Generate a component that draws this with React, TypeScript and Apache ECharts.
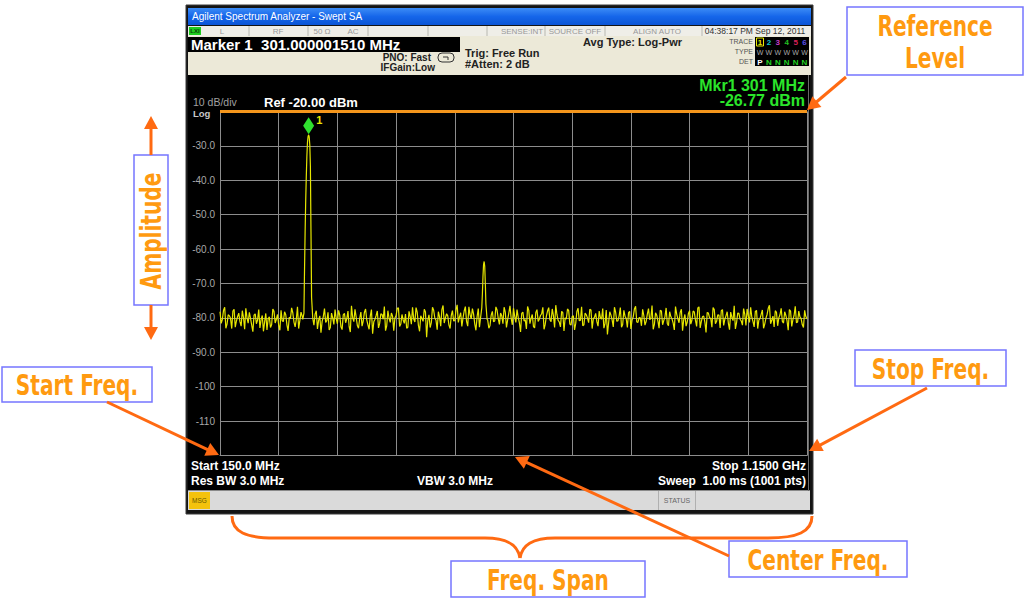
import React, { useEffect, useRef } from 'react';
import * as echarts from 'echarts';

// ---------- data ----------
const startMHz = 150;
const stopMHz = 1150;
const noiseStepMHz = 4;
// trace samples at 150, 154, 158 ... MHz
const noiseEvenDb = [
  -78.2, -80.5, -76.9, -81.8, -79.4, -83.1, -77.5, -80.9, -78.6, -82.4, -79.9, -77.2, -81.5, -80.1, -84.0, -78.8, -80.6, -82.9, -79.3, -81.2,
  -83.5, -79.7, -81.9, -78.1, -80.4, -82.2, -77.8, -81.0, -79.1, -83.8, -80.2, -78.5, -82.6, -76.8, -80.8, -79.5, -83.2, -78.9, -81.4, -79.0,
  -82.1, -77.9, -80.7, -84.3, -79.6, -81.3, -78.4, -82.8, -80.0, -77.6, -81.7, -79.2, -83.4, -78.7, -80.3, -82.5, -76.5, -81.1, -79.8, -83.0,
  -78.3, -80.9, -77.4, -82.0, -79.5, -84.6, -80.4, -78.0, -81.6, -79.0, -76.7, -82.3, -80.1, -78.6, -83.7, -79.3, -77.1, -81.8, -80.6, -78.9,
  -82.7, -79.6, -76.9, -81.2, -78.4, -83.9, -80.2, -77.5, -85.6, -79.1, -81.4, -77.8, -80.7, -78.2, -82.4, -76.4, -80.0, -79.4, -83.1, -77.9,
  -80.8, -76.2, -79.7, -82.5, -78.0, -81.0, -76.8, -80.3, -78.9, -83.6, -77.3, -81.5, -79.2, -76.6, -80.6, -82.2, -78.1, -80.9, -77.7, -81.9,
  -79.4, -76.9, -82.8, -78.6, -80.1, -77.2, -81.3, -79.8, -84.1, -78.3, -80.5, -76.7, -81.7, -79.0, -82.9, -77.6, -80.4, -78.8, -83.3, -79.5,
  -77.0, -81.1, -79.3, -76.3, -80.7, -82.6, -78.5, -80.0, -77.4, -81.8, -79.6, -83.5, -78.1, -80.8, -76.8, -82.0, -79.1, -81.4, -77.7, -80.3,
  -78.7, -82.4, -79.9, -77.3, -81.6, -84.8, -78.2, -80.6, -76.9, -81.0, -79.4, -82.7, -77.8, -80.2, -78.5, -83.2, -79.7, -76.6, -81.3, -80.0,
  -77.5, -82.1, -78.9, -80.5, -76.4, -81.9, -79.2, -83.0, -78.0, -80.8, -77.1, -82.3, -79.6, -81.5, -76.7, -80.3, -78.4, -83.7, -79.0, -81.2,
  -77.9, -80.6, -78.3, -82.5, -76.8, -81.0, -79.5, -84.2, -78.6, -80.1, -77.0, -81.7, -79.1, -82.9, -77.6, -80.4, -78.2, -83.4, -79.8, -76.5,
  -81.4, -78.7, -80.9, -77.3, -82.2, -79.4, -76.9, -81.1, -78.1, -83.1, -80.2, -77.7, -81.8, -79.0, -76.3, -80.7, -82.6, -78.4, -80.0, -77.2,
  -81.5, -79.3, -83.6, -78.0, -80.5, -76.6, -81.2, -79.7, -82.0, -77.8, -80.3,
];
// trace samples at 152, 156, 160 ... MHz
const noiseOddDb = [
  -81.6, -77.8, -83.0, -79.1, -80.2, -78.0, -82.7, -79.6, -81.1, -77.9, -83.3, -80.0, -78.4, -82.1, -79.2, -81.7, -77.6, -80.5, -83.9, -78.7,
  -80.3, -82.8, -77.4, -81.5, -79.0, -83.6, -80.9, -78.2, -82.0, -79.8, -77.1, -81.2, -80.4, -83.1, -78.3, -82.2, -79.7, -81.0, -77.7, -80.6,
  -78.9, -83.2, -79.4, -81.0, -77.3, -80.8, -83.5, -78.6, -81.9, -80.2, -77.8, -82.6, -79.1, -81.4, -78.0, -84.1, -79.9, -77.5, -82.2, -80.1,
  -82.4, -78.4, -80.6, -83.3, -77.6, -81.1, -79.3, -82.9, -78.8, -80.4, -83.7, -77.9, -81.3, -79.5, -80.0, -77.2, -82.5, -79.0, -81.6, -83.0,
  -78.1, -81.8, -80.3, -77.0, -82.2, -79.4, -81.0, -78.3, -80.7, -82.8, -76.9, -80.1, -83.4, -79.7, -77.6, -81.5, -78.8, -82.1, -79.3, -80.9,
  -77.7, -81.3, -78.5, -80.0, -76.7, -82.4, -79.1, -77.3, -81.8, -79.6, -82.7, -78.2, -80.4, -77.9, -83.0, -79.2, -81.1, -76.8, -80.2, -78.6,
  -81.7, -78.3, -80.6, -76.5, -82.0, -79.5, -77.6, -81.4, -78.7, -80.9, -83.2, -77.8, -80.1, -82.5, -78.4, -81.0, -79.3, -76.9, -81.9, -78.0,
  -80.5, -77.4, -82.8, -79.0, -81.2, -78.1, -83.8, -80.3, -77.9, -82.1, -79.4, -81.6, -77.2, -80.7, -82.3, -78.6, -80.0, -77.5, -83.1, -79.8,
  -81.1, -78.0, -80.4, -83.0, -77.7, -81.5, -79.2, -82.6, -78.4, -80.8, -77.0, -81.9, -79.5, -82.8, -78.1, -80.6, -77.4, -81.2, -79.9, -82.3,
  -79.3, -81.0, -77.3, -80.2, -83.3, -78.5, -80.9, -77.8, -82.0, -79.7, -81.6, -78.2, -80.3, -83.5, -78.9, -81.4, -77.5, -80.5, -82.4, -78.7,
  -81.8, -78.0, -80.7, -77.1, -82.9, -79.6, -81.2, -78.4, -80.0, -82.7, -77.6, -81.0, -79.2, -77.9, -82.2, -79.4, -81.5, -78.3, -80.8, -83.2,
  -78.6, -80.4, -82.1, -79.0, -77.4, -81.3, -79.8, -82.6, -77.8, -80.6, -78.9, -83.0, -80.1, -77.2, -81.7, -79.5, -77.9, -82.3, -79.1, -81.0,
  -78.2, -80.9, -77.6, -82.5, -79.3, -81.4, -78.0, -80.2, -82.8, -79.6,
];
const carrierMHz = [291, 293, 294, 295, 296, 297, 298, 299, 300, 301, 302, 303, 304, 305, 306, 308];
const carrierDb = [-80.4, -78.6, -66, -55, -46, -39, -33, -29, -27.3, -26.77, -27.4, -29.8, -36, -55, -74, -80.1];
const spurMHz = [594, 596, 597, 598, 599, 600, 601, 602, 603, 605];
const spurDb = [-79.8, -77, -73, -68, -64.5, -63.6, -65, -70, -76, -80.4];
const markerMHz = 301;
const markerDb = -26.77;
const refLevelDb = -20;
const ampMin = -120;
const ampStep = 10;
const ampLabels = ['-30.0', '-40.0', '-50.0', '-60.0', '-70.0', '-80.0', '-90.0', '-100', '-110'];

// ---------- styles ----------
const SCREEN_FONT = '"Liberation Sans", Arial, sans-serif';
const NOTE_FONT = '"DejaVu Sans Condensed", "DejaVu Sans", sans-serif';
const NOTE_TXT = '#ff9a10';
const NOTE_LN = '#ff6a12';
const NOTE_BOX = '#7676ff';

const txt = (text: string, x: number, y: number, size: number, fill: string, o: any = {}) => ({
  type: 'text', x, y, z: o.z ?? 50, rotation: o.rotation ?? 0, scaleX: o.scaleX ?? 1, silent: true,
  style: {
    text, fill, fontSize: size, fontWeight: o.weight ?? 'normal', fontFamily: o.family ?? SCREEN_FONT,
    align: o.align ?? 'left', verticalAlign: 'middle', lineHeight: o.lineHeight,
  },
});
const box = (x: number, y: number, w: number, h: number, fill: any, o: any = {}) => ({
  type: 'rect', shape: { x, y, width: w, height: h, r: o.r ?? 0 }, silent: true,
  style: { fill, stroke: o.stroke ?? null, lineWidth: o.lw ?? 1 }, z: o.z ?? -10,
});
const seg = (x1: number, y1: number, x2: number, y2: number, stroke: string, lw = 1, z = -9) => ({
  type: 'line', shape: { x1, y1, x2, y2 }, style: { stroke, lineWidth: lw }, z, silent: true,
});
const arrow = (x1: number, y1: number, x2: number, y2: number, head = 13, w = 7) => {
  const dx = x2 - x1, dy = y2 - y1, L = Math.hypot(dx, dy);
  const ux = dx / L, uy = dy / L, px = -uy, py = ux;
  const bx = x2 - ux * head, by = y2 - uy * head;
  return [
    { type: 'line', shape: { x1, y1, x2: bx + ux, y2: by + uy }, style: { stroke: NOTE_LN, lineWidth: 3 }, z: 60, silent: true },
    { type: 'polygon', shape: { points: [[x2, y2], [bx + px * w, by + py * w], [bx - px * w, by - py * w]] }, style: { fill: NOTE_LN }, z: 60, silent: true },
  ];
};
const bez = (x1: number, y1: number, cpx1: number, cpy1: number, cpx2: number, cpy2: number, x2: number, y2: number) => ({
  type: 'bezierCurve', shape: { x1, y1, cpx1, cpy1, cpx2, cpy2, x2, y2 }, style: { stroke: NOTE_LN, lineWidth: 3, fill: null }, z: 60, silent: true,
});
const note = (x: number, y: number, w: number, h: number, text: string, o: any = {}) => [
  box(x, y, w, h, '#ffffff', { stroke: NOTE_BOX, lw: 1.5, z: 55 }),
  txt(text, x + w / 2, y + h / 2 + 1, 28, NOTE_TXT, {
    weight: 'bold', family: NOTE_FONT, align: 'center', z: 56, lineHeight: 32, rotation: o.rotation ?? 0, scaleX: 0.8,
  }),
];

function buildTrace() {
  const inRange = (f: number, arr: number[]) => f >= arr[0] && f <= arr[arr.length - 1];
  const pts: number[][] = [];
  const addNoise = (arr: number[], offset: number) => arr.forEach((v, i) => {
    const f = startMHz + offset + i * noiseStepMHz;
    if (inRange(f, carrierMHz) || inRange(f, spurMHz)) return;
    pts.push([f, v]);
  });
  addNoise(noiseEvenDb, 0);
  addNoise(noiseOddDb, noiseStepMHz / 2);
  carrierMHz.forEach((f, i) => pts.push([f, carrierDb[i]]));
  spurMHz.forEach((f, i) => pts.push([f, spurDb[i]]));
  pts.sort((a, b) => a[0] - b[0]);
  return pts.map(([f, v]) => [f - startMHz, v]);
}

function buildGraphics() {
  const g: any[] = [];
  // frame
  g.push(box(186, 5, 627, 509, '#141414', { stroke: '#3a3a3a', z: -20 }));
  // title bar
  g.push(box(188, 8, 623, 17, { type: 'linear', x: 0, y: 0, x2: 0, y2: 1, colorStops: [{ offset: 0, color: '#3c8cf6' }, { offset: 0.5, color: '#1566ea' }, { offset: 1, color: '#0b55d6' }] }));
  g.push(txt('Agilent Spectrum Analyzer - Swept SA', 192, 16.5, 10, '#ffffff'));
  // status row
  g.push(box(188, 26, 623, 10, '#efeee8'));
  [249, 308, 368, 428, 487, 545, 605, 702].forEach((x) => g.push(seg(x, 26, x, 36, '#b8b8b0')));
  g.push(box(189, 27, 12, 8, '#1ecb1e'));
  g.push(txt('LXI', 195, 31, 6, '#0a400a', { align: 'center', weight: 'bold' }));
  g.push(txt('L', 222, 31, 8, '#999999', { align: 'center' }));
  g.push(txt('RF', 278, 31, 8, '#999999', { align: 'center' }));
  g.push(txt('50 Ω', 322, 31, 8, '#999999', { align: 'center' }));
  g.push(txt('AC', 353, 31, 8, '#999999', { align: 'center' }));
  g.push(txt('SENSE:INT', 522, 31, 8, '#999999', { align: 'center' }));
  g.push(txt('SOURCE OFF', 575, 31, 8, '#999999', { align: 'center' }));
  g.push(txt('ALIGN AUTO', 657, 31, 8, '#999999', { align: 'center' }));
  g.push(txt('04:38:17 PM Sep 12, 2011', 755, 31, 8.5, '#333333', { align: 'center' }));
  // beige panel
  g.push(box(188, 36, 623, 39, '#ece9d8'));
  g.push(box(188, 37, 272, 15, '#000000'));
  g.push(txt('Marker 1  301.000001510 MHz', 191, 44.5, 15, '#ffffff', { weight: 'bold' }));
  g.push(txt('PNO: Fast', 431, 57, 10, '#222222', { weight: 'bold', align: 'right' }));
  g.push(txt('IFGain:Low', 435, 67, 10, '#222222', { weight: 'bold', align: 'right' }));
  g.push(box(438, 53, 16, 9, '#ece9d8', { stroke: '#333333', r: 4, z: -8 }));
  g.push({ type: 'polyline', shape: { points: [[443, 57], [448, 57], [448, 60]] }, style: { stroke: '#333', lineWidth: 1, fill: null }, z: -7, silent: true });
  g.push(txt('Trig: Free Run', 465, 53, 11, '#222222', { weight: 'bold' }));
  g.push(txt('#Atten: 2 dB', 465, 64, 11, '#222222', { weight: 'bold' }));
  g.push(txt('Avg Type: Log-Pwr', 583, 42, 11, '#222222', { weight: 'bold' }));
  g.push(txt('TRACE', 753, 41.5, 7, '#555555', { align: 'right' }));
  g.push(txt('TYPE', 753, 51.5, 7, '#555555', { align: 'right' }));
  g.push(txt('DET', 753, 61.5, 7, '#555555', { align: 'right' }));
  g.push(box(755, 37, 54, 29, '#000000', { z: -8 }));
  g.push(box(756.5, 38, 7, 8, null, { stroke: '#e8e800', z: 50 }));
  const trColors = ['#e8e800', '#11c8d0', '#c83cc8', '#22c022', '#d8205a', '#5a50e8'];
  trColors.forEach((c, i) => {
    const x = 760 + i * 8.9;
    g.push(txt(String(i + 1), x, 42, 8, c, { align: 'center', weight: 'bold' }));
    g.push(txt('W', x, 52, 7, '#a8a8a8', { align: 'center' }));
    g.push(txt(i === 0 ? 'P' : 'N', x, 62, 8, i === 0 ? '#ffffff' : '#22d022', { align: 'center', weight: 'bold' }));
  });
  // black screen
  g.push(box(188, 75, 622, 416, '#000000'));
  g.push(seg(188, 490.5, 810, 490.5, '#8a8a8a'));
  g.push(seg(808.5, 75, 808.5, 491, '#6a6a6a'));
  g.push(txt('Mkr1 301 MHz', 805, 85, 16, '#2be52b', { weight: 'bold', align: 'right' }));
  g.push(txt('-26.77 dBm', 805, 100, 16, '#2be52b', { weight: 'bold', align: 'right' }));
  g.push(txt('10 dB/div', 193, 101.5, 10.5, '#a0a0a0', { lineHeight: 10 }));
  g.push(txt('Log', 193, 113, 9.5, '#c8c8c8', { weight: 'bold', lineHeight: 10 }));
  g.push(txt('Ref -20.00 dBm', 264, 102, 13, '#ffffff', { weight: 'bold', lineHeight: 13 }));
  g.push(txt('Start 150.0 MHz', 191, 466, 12, '#ffffff', { weight: 'bold' }));
  g.push(txt('Res BW 3.0 MHz', 191, 481, 12, '#ffffff', { weight: 'bold' }));
  g.push(txt('VBW 3.0 MHz', 417, 481, 12, '#ffffff', { weight: 'bold' }));
  g.push(txt('Stop 1.1500 GHz', 806, 466, 12, '#ffffff', { weight: 'bold', align: 'right' }));
  g.push(txt('Sweep  1.00 ms (1001 pts)', 806, 481, 12, '#ffffff', { weight: 'bold', align: 'right' }));
  // message bar
  g.push(box(188, 491, 622, 19, '#dadada'));
  g.push(box(189, 492, 21, 17, '#f4c20d'));
  g.push(txt('MSG', 199.5, 500.5, 6.5, '#6a5a00', { align: 'center' }));
  g.push(seg(658.5, 491, 658.5, 510, '#b0b0b0'));
  g.push(seg(695.5, 491, 695.5, 510, '#b0b0b0'));
  g.push(txt('STATUS', 677, 500.5, 7, '#666666', { align: 'center' }));

  // annotations
  g.push(...note(847, 7, 176, 68, 'Reference\nLevel'));
  g.push(...arrow(846, 77, 807, 110));
  g.push(...note(134, 155, 34, 150, 'Amplitude', { rotation: Math.PI / 2 }));
  g.push(...arrow(151, 155, 151, 116));
  g.push(...arrow(151, 305, 151, 340));
  g.push(...note(2, 367, 150, 35, 'Start Freq.'));
  g.push(...arrow(107, 402, 219, 455));
  g.push(...note(855, 350, 151, 36, 'Stop Freq.'));
  g.push(...arrow(927, 388, 809, 451));
  g.push(...note(729, 541, 178, 36, 'Center Freq.'));
  g.push(...arrow(729, 556, 515, 457));
  g.push(...note(451, 561, 194, 36, 'Freq. Span'));
  // brace
  g.push(bez(232, 516, 232, 532, 246, 538, 275, 538));
  g.push({ type: 'line', shape: { x1: 275, y1: 538, x2: 485, y2: 538 }, style: { stroke: NOTE_LN, lineWidth: 3 }, z: 60, silent: true });
  g.push(bez(485, 538, 508, 538, 518, 545, 520, 558));
  g.push(bez(520, 558, 522, 545, 532, 538, 555, 538));
  g.push({ type: 'line', shape: { x1: 555, y1: 538, x2: 768, y2: 538 }, style: { stroke: NOTE_LN, lineWidth: 3 }, z: 60, silent: true });
  g.push(bez(768, 538, 797, 538, 812, 532, 812, 516));
  return g;
}

export default function App() {
  const ref = useRef<HTMLDivElement>(null);
  useEffect(() => {
    if (!ref.current) return;
    const chart = echarts.init(ref.current, undefined, { renderer: 'svg' });
    const gridLine = { show: true, lineStyle: { color: '#8c8c8c', width: 1 } };
    chart.setOption({
      animation: false,
      backgroundColor: '#ffffff',
      textStyle: { fontFamily: SCREEN_FONT },
      grid: { left: 220, top: 111.5, width: 587, height: 344, show: false },
      xAxis: {
        type: 'value', min: 0, max: stopMHz - startMHz, interval: 100,
        axisLabel: { show: false }, axisTick: { show: false },
        axisLine: { show: true, lineStyle: { color: '#8c8c8c' } },
        splitLine: gridLine,
      },
      yAxis: {
        type: 'value', min: ampMin, max: refLevelDb, interval: ampStep,
        axisTick: { show: false },
        axisLine: { show: true, lineStyle: { color: '#8c8c8c' } },
        splitLine: gridLine,
        axisLabel: {
          color: '#a8a8a8', fontSize: 10, margin: 5, fontFamily: SCREEN_FONT,
          formatter: (v: number) => {
            const idx = Math.round((-30 - v) / ampStep);
            return idx >= 0 && idx < ampLabels.length ? ampLabels[idx] : '';
          },
        },
      },
      series: [
        {
          type: 'line',
          data: buildTrace(),
          showSymbol: false,
          symbol: 'none',
          silent: true,
          lineStyle: { color: '#e6e600', width: 1.2 },
          z: 5,
          markLine: {
            silent: true, symbol: 'none', label: { show: false },
            lineStyle: { color: '#f5961c', width: 3, type: 'solid' },
            data: [{ yAxis: refLevelDb }],
          },
          markPoint: {
            silent: true,
            symbol: 'diamond',
            symbolSize: [11, 17],
            symbolOffset: [0, -9],
            itemStyle: { color: '#2fe02f' },
            label: { show: true, formatter: '1', position: 'right', distance: 2, offset: [0, -6], color: '#e8e800', fontSize: 11, fontWeight: 'bold' },
            data: [{ coord: [markerMHz - startMHz, markerDb] }],
          },
        },
      ],
      graphic: { elements: buildGraphics() },
    });
    return () => chart.dispose();
  }, []);
  return <div ref={ref} style={{ position: 'absolute', left: 0, top: 0, width: 1026, height: 609 }} />;
}
